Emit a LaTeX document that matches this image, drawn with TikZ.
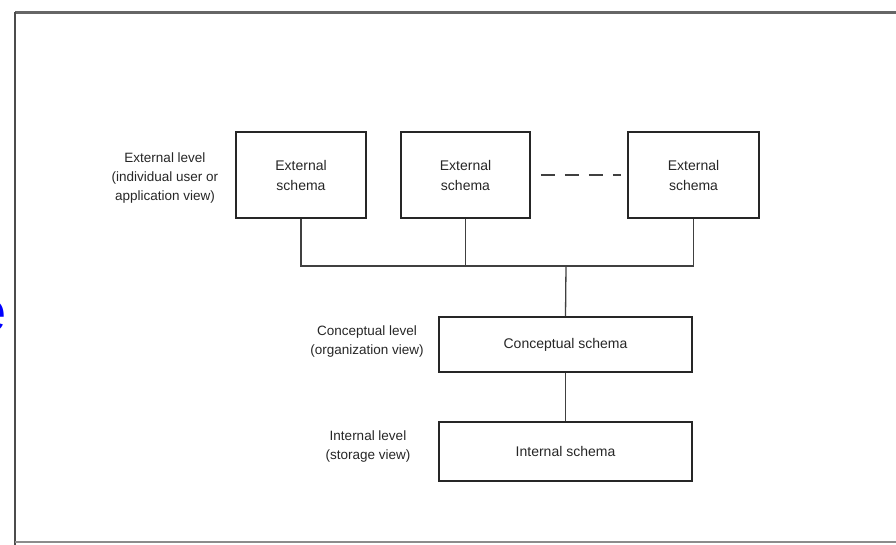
\documentclass[tikz,border=0pt]{standalone}
\usepackage{fontspec}
\setmainfont{Liberation Sans}
\begin{document}
\begin{tikzpicture}[x=1pt,y=-1pt,
  schemabox/.style={draw=black!85,line width=1.6pt,minimum width=#1,inner sep=0pt,align=center,
    font=\fontsize{14}{20}\selectfont,text=black!85},
  levellabel/.style={align=center,font=\fontsize{13.5}{19}\selectfont,text=black!85,inner sep=0pt},
  link/.style={draw=black!75,line width=1.3pt}]
\useasboundingbox (0,0) rectangle (896,545);
% frame
\draw[black!60,line width=3pt] (15,13) -- (896,13);
\draw[black!70,line width=2.5pt] (15,12) -- (15,545);
\draw[black!45,line width=1.2pt] (15,542) -- (896,542);
% partial blue letter at the left edge
\node[anchor=base east,inner sep=0pt,text=blue,font=\fontsize{58}{60}\selectfont] (blue) at (7,331) {e};
% external schemas
\node[schemabox=130pt,minimum height=86pt] (e1) at (301,175) {External\\schema};
\node[schemabox=129pt,minimum height=86pt] (e2) at (465.5,175) {External\\schema};
\node[schemabox=131pt,minimum height=86pt] (e3) at (693.5,175) {External\\schema};
% conceptual and internal
\node[schemabox=253pt,minimum height=55pt] (cs) at (565.5,344.5) {Conceptual schema};
\node[schemabox=253pt,minimum height=59pt] (is) at (565.5,451.5) {Internal schema};
% level labels
\node[levellabel] (l1) at (165,178) {External level\\(individual user or\\application view)};
\node[levellabel] (l2) at (367,342) {Conceptual level\\(organization view)};
\node[levellabel] (l3) at (368,447) {Internal level\\(storage view)};
% connectors
\coordinate (j) at (566,266);
\draw[link] (e1.south) -- (e1.south |- j) -- (e3.south |- j) -- (e3.south);
\draw[link] (e2.south) -- (e2.south |- j);
\draw[link] (j) -- (cs.north);
\draw[link] (cs.south) -- (is.north);
\draw[link,dash pattern=on 14pt off 10pt] ([xshift=10pt]e2.east) -- ([xshift=-6pt]e3.west);
\end{tikzpicture}
\end{document}
